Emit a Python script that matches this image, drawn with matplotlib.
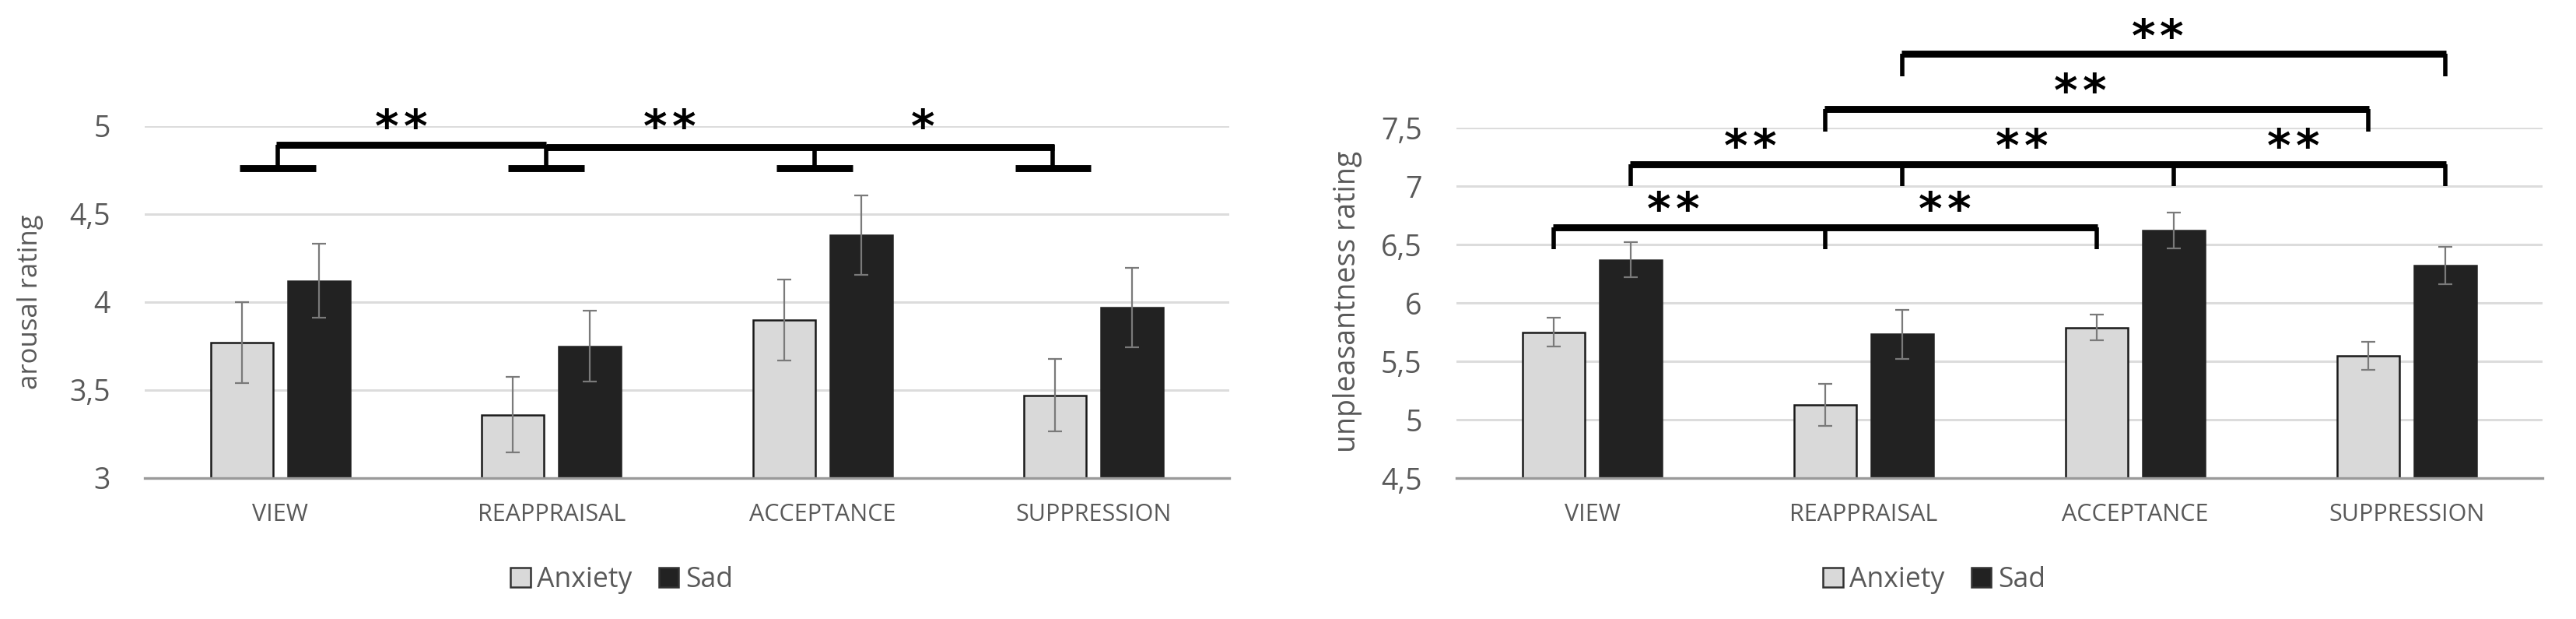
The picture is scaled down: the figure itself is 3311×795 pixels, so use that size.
import matplotlib.pyplot as plt
from matplotlib.patches import Patch
import numpy as np

plt.rcParams['font.family'] = ['Open Sans', 'DejaVu Sans']

# data
categories = ['VIEW', 'REAPPRAISAL', 'ACCEPTANCE', 'SUPPRESSION']
series = ['Anxiety', 'Sad']

arousal_anxiety = [3.77, 3.36, 3.90, 3.47]
arousal_sad = [4.12, 3.75, 4.38, 3.97]
arousal_anxiety_err = [0.23, 0.215, 0.23, 0.205]
arousal_sad_err = [0.21, 0.20, 0.225, 0.225]

unpleasant_anxiety = [5.75, 5.13, 5.79, 5.55]
unpleasant_sad = [6.37, 5.73, 6.62, 6.32]
unpleasant_anxiety_err = [0.125, 0.18, 0.11, 0.12]
unpleasant_sad_err = [0.15, 0.21, 0.15, 0.16]

# significance marks
arousal_stars = ['**', '**', '*']
# (series, conditions joined, stars between neighbours)
unpleasant_brackets = [
    ('Anxiety', [0, 1, 2], ['**', '**']),
    ('Sad', [0, 1, 2, 3], ['**', '**', '**']),
    ('Anxiety', [1, 3], ['**']),
    ('Sad', [1, 3], ['**']),
]

fill = {'Anxiety': '#d9d9d9', 'Sad': '#222222'}
grey_txt = '#595959'
W, H, DPI = 3311, 795, 200
off = 0.142
bw = 0.23

fig = plt.figure(figsize=(W / DPI, H / DPI), dpi=DPI)


def px_axes(x0, x1, ytop, ybot):
    return fig.add_axes([x0 / W, 1 - ybot / H, (x1 - x0) / W, (ybot - ytop) / H])


def draw(ax, anx, sad, anx_err, sad_err, ylim, ticks, ylabel, lsize):
    x = np.arange(len(categories))
    ekw = dict(ecolor='#7a7a7a', elinewidth=0.8, capsize=3.2, capthick=0.8)
    ax.bar(x - off, anx, bw, yerr=anx_err, color=fill['Anxiety'],
           edgecolor='#1a1a1a', linewidth=0.9, error_kw=ekw, zorder=2)
    ax.bar(x + off, sad, bw, yerr=sad_err, color=fill['Sad'],
           edgecolor='#222222', linewidth=0.9, error_kw=ekw, zorder=2)
    ax.set_xlim(-0.5, len(categories) - 0.5)
    ax.set_ylim(*ylim)
    ax.set_yticks(ticks)
    ax.set_yticklabels([('%g' % t).replace('.', ',') for t in ticks],
                       fontsize=13.5, color=grey_txt)
    ax.set_xticks(x)
    ax.set_xticklabels(categories, fontsize=11, color=grey_txt)
    ax.tick_params(axis='y', length=0, pad=16)
    ax.tick_params(axis='x', length=0, pad=11.5)
    for s in ['top', 'right', 'left']:
        ax.spines[s].set_visible(False)
    ax.spines['bottom'].set_color('#9a9a9a')
    ax.spines['bottom'].set_linewidth(1.2)
    ax.spines['bottom'].set_zorder(3)
    ax.yaxis.grid(True, color='#dcdcdc', linewidth=1.1)
    ax.set_axisbelow(True)
    ax.set_ylabel(ylabel, fontsize=lsize, color=grey_txt)


def stars(ax, x, y, s):
    # each asterisk placed on its own so the spacing matches the original
    n = len(s)
    for k in range(n):
        dx = (k - (n - 1) / 2) * 13.3
        ax.annotate('*', (x, y), xytext=(dx, 1.4), textcoords='offset points',
                    ha='center', va='baseline', fontsize=21, fontweight='bold',
                    family='DejaVu Sans', color='black', annotation_clip=False)


hk = dict(color='black', linewidth=3.2, clip_on=False, solid_capstyle='butt')
vk = dict(color='black', linewidth=2.0, clip_on=False, solid_capstyle='butt')

# left chart: arousal
ax1 = px_axes(186, 1580, 162, 614)
draw(ax1, arousal_anxiety, arousal_sad, arousal_anxiety_err, arousal_sad_err,
     (3, 5), np.arange(3, 5.01, 0.5), 'arousal rating', 12.5)
ax1.yaxis.set_label_coords(-0.093, 0.5)

nudge = [-0.01, -0.02, -0.03, -0.15]   # hand placed in the original
cx = np.arange(len(categories)) + np.array(nudge)
top, low = 4.894, 4.763
for c in cx:
    ax1.plot([c - 0.14, c + 0.14], [low, low], **hk)
    ax1.plot([c, c], [low, top], **vk)
ax1.plot([cx[0] - 0.004, cx[1]], [top, top], **hk)
ax1.plot([cx[1], cx[-1] + 0.004], [top - 0.012, top - 0.012], **hk)
for i, s in enumerate(arousal_stars):
    stars(ax1, (cx[i] + cx[i + 1]) / 2 - 0.04, top, s)

fig.legend(handles=[Patch(facecolor=fill[s], edgecolor='#333333', linewidth=0.9, label=s)
                    for s in series],
           loc='center', bbox_to_anchor=(799 / W, 1 - 745 / H), ncol=2,
           frameon=False, fontsize=12.8, handlelength=0.73, handleheight=0.73,
           handletextpad=0.25, columnspacing=0.95, labelcolor=grey_txt)

# right chart: unpleasantness
ax2 = px_axes(1872, 3268, 164, 614)
draw(ax2, unpleasant_anxiety, unpleasant_sad, unpleasant_anxiety_err, unpleasant_sad_err,
     (4.5, 7.5), np.arange(4.5, 7.51, 0.5), 'unpleasantness rating', 13.5)
ax2.yaxis.set_label_coords(-0.087, 0.504)

levels = [6.65, 7.19, 7.66, 8.13]
tick = 0.19
for (ser, conds, marks), lev in zip(unpleasant_brackets, levels):
    xs = np.array(conds) + (-off if ser == 'Anxiety' else off)
    ax2.plot([xs[0] - 0.004, xs[-1] + 0.004], [lev, lev], **hk)
    for xv in xs:
        ax2.plot([xv, xv], [lev - tick, lev], **vk)
    for i, s in enumerate(marks):
        stars(ax2, (xs[i] + xs[i + 1]) / 2 - 0.06, lev, s)

fig.legend(handles=[Patch(facecolor=fill[s], edgecolor='#333333', linewidth=0.9, label=s)
                    for s in series],
           loc='center', bbox_to_anchor=(2486 / W, 1 - 745 / H), ncol=2,
           frameon=False, fontsize=12.8, handlelength=0.73, handleheight=0.73,
           handletextpad=0.25, columnspacing=0.95, labelcolor=grey_txt)

fig.savefig('out.png', dpi=DPI, facecolor='white')
